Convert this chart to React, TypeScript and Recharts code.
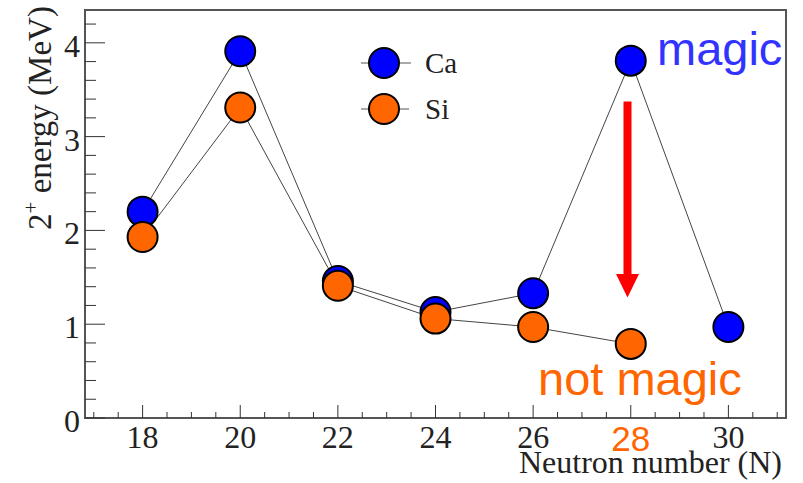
import React from 'react';
import { LineChart, Line, XAxis, YAxis, ReferenceArea } from 'recharts';

const neutrons = [18, 20, 22, 24, 26, 28, 30];
const caEnergy = [2.2, 3.91, 1.46, 1.13, 1.33, 3.81, 0.97];
const siEnergy = [1.93, 3.31, 1.41, 1.06, 0.97, 0.79, null];

const xTicks = [17, 17.5, 18, 18.5, 19, 19.5, 20, 20.5, 21, 21.5, 22, 22.5, 23, 23.5, 24, 24.5, 25, 25.5, 26, 26.5, 27, 27.5, 28, 28.5, 29, 29.5, 30, 30.5, 31];
const yTicks = [0, 0.2, 0.4, 0.6, 0.8, 1, 1.2, 1.4, 1.6, 1.8, 2, 2.2, 2.4, 2.6, 2.8, 3, 3.2, 3.4, 3.6, 3.8, 4, 4.2];

const data = neutrons.map((n, i) => ({ n, ca: caEnergy[i], si: siEnergy[i] }));

const BLUE = '#0000ff';
const ORANGE = '#ff6600';
const SERIF = '"Liberation Serif", "DejaVu Serif", serif';
const SANS = '"Liberation Sans", Arial, sans-serif';
const AXIS = '#555';

// plot frame (pixels)
const LEFT = 85;
const TOP = 10;
const BOTTOM = 418;

const renderXTick = (props: any) => {
  const { x, payload, index } = props;
  const v = payload.value;
  const major = Number.isInteger(v) && v % 2 === 0;
  const len = major ? 13 : 6;
  return (
    <g key={`xt-${index}`}>
      <line x1={x} x2={x} y1={BOTTOM} y2={BOTTOM - len} stroke="#333" strokeWidth={1} />
      {major && (
        v === 28 ? (
          <text x={x} y={BOTTOM + 33} textAnchor="middle" fontFamily={SANS} fontSize={35} fill={ORANGE}>{v}</text>
        ) : (
          <text x={x} y={BOTTOM + 30} textAnchor="middle" fontFamily={SERIF} fontSize={32} fill="#222">{v}</text>
        )
      )}
    </g>
  );
};

const renderYTick = (props: any) => {
  const { y, payload, index } = props;
  const v = payload.value;
  const major = Math.abs(v - Math.round(v)) < 1e-6;
  const len = major ? 20 : 11;
  return (
    <g key={`yt-${index}`}>
      <line x1={LEFT} x2={LEFT + len} y1={y} y2={y} stroke="#333" strokeWidth={1} />
      {major && (
        <text x={LEFT - 5} y={y + 14} textAnchor="end" fontFamily={SERIF} fontSize={32} fill="#222">{Math.round(v)}</text>
      )}
    </g>
  );
};

const Dot = (color: string) => (props: any) => {
  const { cx, cy, index } = props;
  if (cx == null || cy == null) return <g key={index} />;
  return <circle key={index} cx={cx} cy={cy} r={15} fill={color} stroke="#000" strokeWidth={2} />;
};

export default function App() {
  return (
    <div style={{ position: 'absolute', left: 0, top: 0, width: 803, height: 483, background: '#fff' }}>
      <LineChart width={803} height={483} data={data} margin={{ top: TOP, right: 17, bottom: 483 - BOTTOM - 1, left: LEFT - 1 }}>
        <XAxis
          dataKey="n"
          type="number"
          domain={[16.82, 31.18]}
          ticks={xTicks}
          interval={0}
          tick={renderXTick}
          tickLine={false}
          axisLine={{ stroke: AXIS, strokeWidth: 2 }}
          height={1}
          allowDataOverflow
        />
        <YAxis
          type="number"
          domain={[0, 4.35]}
          ticks={yTicks}
          interval={0}
          tick={renderYTick}
          tickLine={false}
          axisLine={{ stroke: AXIS, strokeWidth: 2 }}
          width={1}
          allowDataOverflow
        />
        <ReferenceArea x1={16.82} x2={31.18} y1={0} y2={4.35} fill="none" stroke={AXIS} strokeWidth={2} ifOverflow="visible" />
        <Line dataKey="ca" stroke="#444" strokeWidth={1} dot={Dot(BLUE)} activeDot={false} isAnimationActive={false} connectNulls={false} />
        <Line dataKey="si" stroke="#444" strokeWidth={1} dot={Dot(ORANGE)} activeDot={false} isAnimationActive={false} connectNulls={false} />
      </LineChart>
      <svg width={803} height={483} style={{ position: 'absolute', left: 0, top: 0, pointerEvents: 'none' }}>
        {/* legend */}
        <line x1={361} x2={411} y1={63} y2={63} stroke="#555" strokeWidth={1} />
        <circle cx={384} cy={63} r={15} fill={BLUE} stroke="#000" strokeWidth={2} />
        <text x={425} y={73} fontFamily={SERIF} fontSize={29} fill="#222">Ca</text>
        <line x1={361} x2={409} y1={109} y2={109} stroke="#555" strokeWidth={1} />
        <circle cx={384} cy={109} r={15} fill={ORANGE} stroke="#000" strokeWidth={2} />
        <text x={425} y={119} fontFamily={SERIF} fontSize={29} fill="#222">Si</text>
        {/* arrow */}
        <rect x={623.5} y={101.5} width={8} height={174} fill="#ff0000" />
        <polygon points="616,274 639,274 627.5,297.5" fill="#ff0000" />
        {/* annotations */}
        <text x={657} y={65} fontFamily={SANS} fontSize={47} fill="#3333ff">magic</text>
        <text x={538} y={395} fontFamily={SANS} fontSize={47} fill={ORANGE}>not magic</text>
        {/* axis titles */}
        <text x={782} y={473} textAnchor="end" fontFamily={SERIF} fontSize={32} fill="#222">Neutron number (N)</text>
        <text transform="translate(51,118) rotate(-90)" textAnchor="middle" fontFamily={SERIF} fontSize={33} fill="#222">
          2<tspan dy={-13} fontSize={21}>+</tspan><tspan dy={13}> energy (MeV)</tspan>
        </text>
      </svg>
    </div>
  );
}
